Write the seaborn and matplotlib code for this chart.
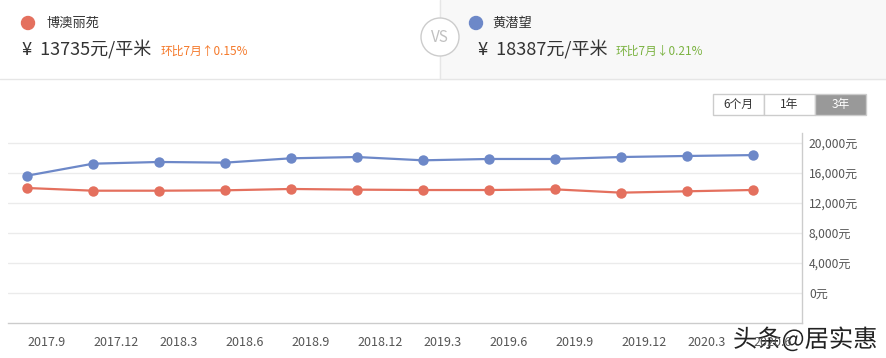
import pandas as pd
import matplotlib.pyplot as plt
import matplotlib.patches as mpatches
import matplotlib.patheffects as pe
import seaborn as sns

months = ['2017.9', '2017.12', '2018.3', '2018.6', '2018.9', '2018.12',
          '2019.3', '2019.6', '2019.9', '2019.12', '2020.3', '2020.6']
boao = [14000, 13640, 13640, 13690, 13870, 13780, 13730, 13730, 13820, 13380, 13560, 13735]
huang = [15640, 17240, 17470, 17380, 17960, 18130, 17690, 17870, 17870, 18130, 18270, 18387]
y_ticks = [0, 4000, 8000, 12000, 16000, 20000]

red = '#e4705e'
blue = '#6d88c8'

sns.set_theme(style='white')
plt.rcParams['font.family'] = ['Noto Sans CJK SC', 'DejaVu Sans']

df = pd.DataFrame({
    'idx': list(range(len(months))) * 2,
    'price': boao + huang,
    'name': ['博澳丽苑'] * len(months) + ['黄潜望'] * len(months),
})

W, H = 886, 358
fig = plt.figure(figsize=(W / 100, H / 100), dpi=100)
fig.patch.set_facecolor('white')

# header panel
hd = fig.add_axes([0, 0, 1, 1])
hd.set_xlim(0, W)
hd.set_ylim(H, 0)
hd.axis('off')
hd.add_patch(mpatches.Rectangle((440, 0), W - 440, 79, color='#f8f8f8', zorder=0))
hd.plot([440, 440], [0, 79], color='#e6e6e6', lw=1)
hd.plot([0, W], [79, 79], color='#e6e6e6', lw=1)
hd.add_patch(mpatches.Circle((440, 37), 19, facecolor='white', edgecolor='#cccccc', lw=1, zorder=3))
hd.text(440, 37, 'VS', ha='center', va='center', color='#c0c0c0', fontsize=11, zorder=4)

hd.add_patch(mpatches.Circle((28, 23), 6.5, color=red))
hd.text(47, 23, '博澳丽苑', va='center', fontsize=9.5, color='#333333')
hd.text(22, 50, '¥  13735元/平米', va='center', fontsize=13, color='#333333')
hd.text(161, 51, '环比7月↑0.15%', va='center', fontsize=8.5, color='#f5792a')

hd.add_patch(mpatches.Circle((476, 23), 6.5, color=blue))
hd.text(492, 23, '黄潜望', va='center', fontsize=9.5, color='#333333')
hd.text(478, 50, '¥  18387元/平米', va='center', fontsize=13, color='#333333')
hd.text(616, 51, '环比7月↓0.21%', va='center', fontsize=8.5, color='#7cb342')

# period buttons
for x0, label, active in [(713, '6个月', False), (764, '1年', False), (815, '3年', True)]:
    hd.add_patch(mpatches.Rectangle((x0, 94), 51, 21, facecolor='#999999' if active else 'white',
                                    edgecolor='#cccccc', lw=1))
    hd.text(x0 + 25.5, 104.5, label, ha='center', va='center', fontsize=8.5,
            color='white' if active else '#333333')

# chart
left, right, top, bottom = 8, 802, 133, 323
ax = fig.add_axes([left / W, (H - bottom) / H, (right - left) / W, (bottom - top) / H])
sns.lineplot(data=df, x='idx', y='price', hue='name', palette={'博澳丽苑': red, '黄潜望': blue},
             marker='o', markersize=7.5, markeredgewidth=0, linewidth=1.6, legend=False, ax=ax)
ax.set_xlim(-19 / 66, 11 + 49 / 66)
ax.set_ylim(-4000, 21333)
ax.set_facecolor('none')
ax.set_xlabel('')
ax.set_ylabel('')

ax.yaxis.tick_right()
ax.set_yticks(y_ticks)
ax.set_yticklabels([f'{v:,}元' for v in y_ticks], fontsize=8.7, color='#555555')
ax.grid(axis='y', color='#ebebeb', lw=1)
ax.set_xticks(range(len(months)))
ax.set_xticklabels(months, fontsize=9, color='#555555', ha='left')
ax.tick_params(axis='x', length=0, pad=9)
ax.tick_params(axis='y', length=0, pad=5)
for s in ['top', 'left']:
    ax.spines[s].set_visible(False)
for s in ['bottom', 'right']:
    ax.spines[s].set_color('#cccccc')
    ax.spines[s].set_linewidth(1)

# watermark
hd.text(733, 340, '头条@居实惠', va='center', fontsize=17.5, color='#222222', zorder=10,
        path_effects=[pe.withStroke(linewidth=3, foreground='white')])

fig.savefig('out.png', dpi=100)
